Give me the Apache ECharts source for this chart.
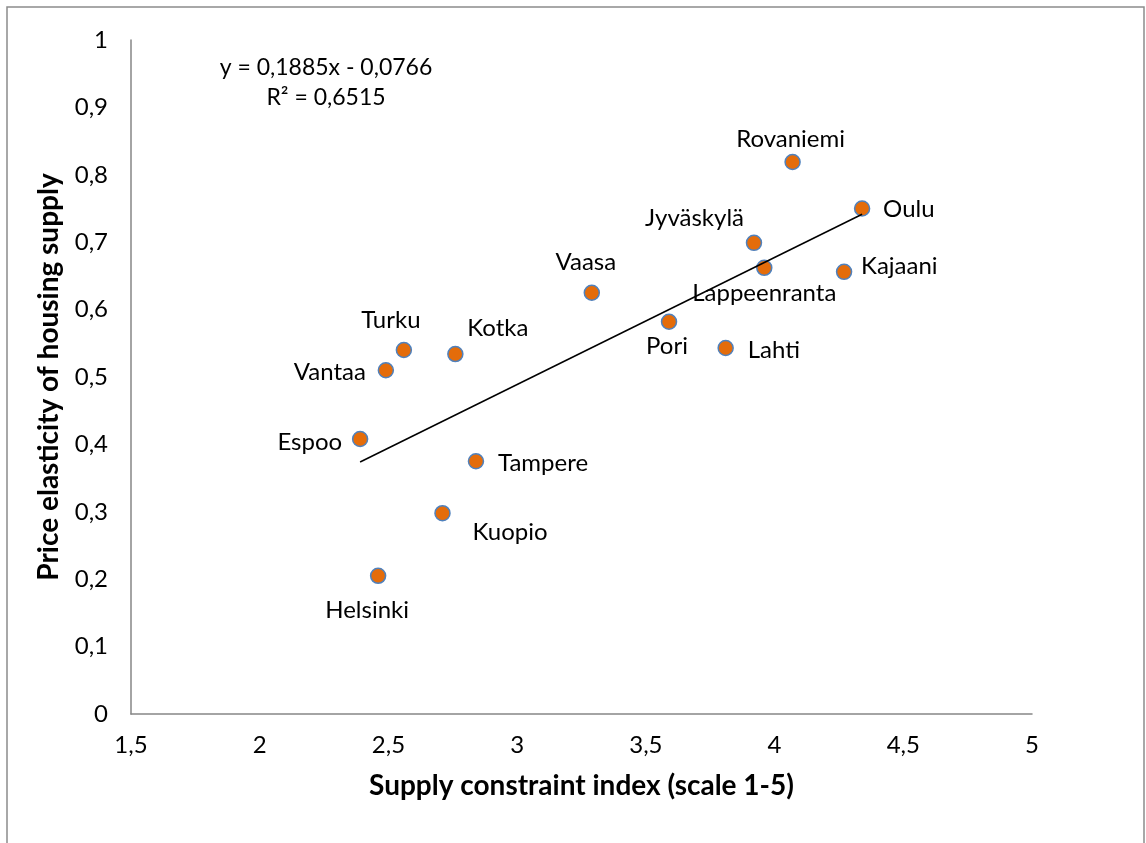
<!DOCTYPE html>
<html>
<head>
<meta charset="utf-8">
<script src="https://cdn.jsdelivr.net/npm/echarts@6/dist/echarts.min.js"></script>
<style>
html,body{margin:0;padding:0;background:#fff;}
#chart{width:1146px;height:843px;}
</style>
</head>
<body>
<div id="chart"></div>
<script>
// ---- data ----
var cities = ['Rovaniemi','Oulu','Jyväskylä','Lappeenranta','Kajaani','Vaasa','Pori','Lahti','Turku','Kotka','Vantaa','Espoo','Tampere','Kuopio','Helsinki'];
var supplyIndex = [4.07, 4.34, 3.92, 3.96, 4.27, 3.29, 3.59, 3.81, 2.56, 2.76, 2.49, 2.39, 2.84, 2.71, 2.46];
var elasticity  = [0.819, 0.750, 0.699, 0.662, 0.656, 0.625, 0.582, 0.543, 0.540, 0.534, 0.510, 0.408, 0.375, 0.298, 0.205];
var trendSlope = 0.1885;
var trendIntercept = -0.0766;
var equationText = 'y = 0,1885x - 0,0766';
var r2Text = 'R² = 0,6515';
var xAxisTitle = 'Supply constraint index (scale 1-5)';
var yAxisTitle = 'Price elasticity of housing supply';

// ---- label placement (style, not data): [dx, dy, align] ----
var labelPlace = {
  'Rovaniemi':[-2,-23,'center'], 'Oulu':[21,1,'left'], 'Jyväskylä':[-10,-25,'right'],
  'Lappeenranta':[0,25,'center'], 'Kajaani':[17,-6,'left'], 'Vaasa':[-6,-30,'center'],
  'Pori':[-2,25,'center'], 'Lahti':[22,2,'left'], 'Turku':[-13,-30,'center'],
  'Kotka':[12,-26,'left'], 'Vantaa':[-20,2,'right'], 'Espoo':[-18,3,'right'],
  'Tampere':[22,2,'left'], 'Kuopio':[30,19,'left'], 'Helsinki':[-11,34,'center']
};

var FONT = 'Lato, "Open Sans", sans-serif';
var comma = function(v){ return String(v).replace('.', ','); };

var points = cities.map(function(c, i){
  var p = labelPlace[c];
  return {
    name: c,
    value: [supplyIndex[i], elasticity[i]],
    label: { offset: [p[0], p[1]], align: p[2] }
  };
});

var xMin = Math.min.apply(null, supplyIndex);
var xMax = Math.max.apply(null, supplyIndex);
var trendData = [
  [xMin, trendSlope * xMin + trendIntercept],
  [xMax, trendSlope * xMax + trendIntercept]
];

var chart = echarts.init(document.getElementById('chart'), null, {renderer:'canvas'});
chart.setOption({
  animation: false,
  backgroundColor: '#ffffff',
  grid: { left: 131, right: 114, top: 40, bottom: 129, containLabel: false },
  xAxis: {
    type: 'value', min: 1.5, max: 5, interval: 0.5,
    name: xAxisTitle, nameLocation: 'middle', nameGap: 58,
    nameTextStyle: { fontFamily: FONT, fontSize: 28, fontWeight: 'bold', color: '#000' },
    axisLine: { show: true, onZero: false, lineStyle: { color: '#868686', width: 1.5 } },
    axisTick: { show: false },
    splitLine: { show: false },
    axisLabel: { fontFamily: FONT, fontSize: 24, color: '#000', margin: 19, formatter: comma }
  },
  yAxis: {
    type: 'value', min: 0, max: 1, interval: 0.1,
    name: yAxisTitle, nameLocation: 'middle', nameGap: 68, nameRotate: 90,
    nameTextStyle: { fontFamily: FONT, fontSize: 28, fontWeight: 'bold', color: '#000' },
    axisLine: { show: true, lineStyle: { color: '#868686', width: 1.5 } },
    axisTick: { show: false },
    splitLine: { show: false },
    axisLabel: { fontFamily: FONT, fontSize: 24, color: '#000', margin: 23,
      formatter: function(v){ return comma(Math.round(v*10)/10); } }
  },
  series: [
    {
      type: 'scatter',
      data: points,
      symbol: 'circle',
      symbolSize: 15,
      itemStyle: { color: '#E46C0A', borderColor: '#4F81BD', borderWidth: 1.5, opacity: 1 },
      label: {
        show: true, position: 'inside', formatter: '{b}',
        fontFamily: FONT, fontSize: 24, color: '#000',
        align: 'center', verticalAlign: 'middle'
      },
      emphasis: { disabled: true },
      z: 2
    },
    {
      type: 'line',
      data: trendData,
      symbol: 'none',
      lineStyle: { color: '#000', width: 1.5 },
      silent: true,
      z: 3
    }
  ],
  graphic: [
    { type: 'rect', shape: { x: 7, y: 7, width: 1137, height: 860 },
      style: { fill: null, stroke: '#8c8c8c', lineWidth: 1.5 }, silent: true },
    { type: 'text', x: 326, y: 68,
      style: { text: equationText, font: '23px ' + FONT, fill: '#000', textAlign: 'center', textVerticalAlign: 'middle' } },
    { type: 'text', x: 326, y: 98,
      style: { text: r2Text, font: '23px ' + FONT, fill: '#000', textAlign: 'center', textVerticalAlign: 'middle' } }
  ]
});
</script>
</body>
</html>
